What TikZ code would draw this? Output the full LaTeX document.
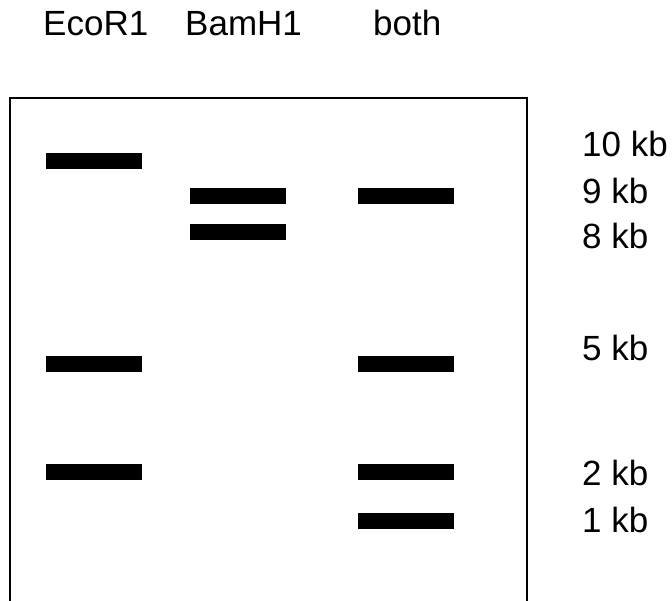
\documentclass[tikz,border=0pt]{standalone}
\usepackage{fontspec}
\setmainfont{Liberation Sans}
\begin{document}
\begin{tikzpicture}[x=1pt,y=-1pt,
  band/.style={rectangle,fill=black,inner sep=0pt,minimum width=96pt,minimum height=16pt},
  lbl/.style={anchor=base west,inner sep=0pt,font=\fontsize{35}{42}\selectfont}]
  \useasboundingbox (0,0) rectangle (672,600);
  \clip (0,0) rectangle (672,600);
  % gel outline (open at the bottom)
  \draw[line width=1.8pt] (10,620) -- (10,98) -- (527,98) -- (527,620);
  % lane headings
  \node[lbl] (hEco) at (43,35) {EcoR1};
  \node[lbl] (hBam) at (185,35) {BamH1};
  \node[lbl] (hBoth) at (373,35) {both};
  % EcoR1 lane
  \node[band] (e10) at (94,160.5) {};
  \node[band] (e5) at (94,364) {};
  \node[band] (e2) at (94,472) {};
  % BamH1 lane
  \node[band] (b9) at (238,196) {};
  \node[band] (b8) at (238,232) {};
  % double digest lane
  \node[band] (d9) at (406,196) {};
  \node[band] (d5) at (406,364) {};
  \node[band] (d2) at (406,472) {};
  \node[band] (d1) at (406,520.5) {};
  % size markers
  \node[lbl] (s10) at (582,156) {10 kb};
  \node[lbl] (s9) at (582,203) {9 kb};
  \node[lbl] (s8) at (582,248) {8 kb};
  \node[lbl] (s5) at (582,360) {5 kb};
  \node[lbl] (s2) at (582,485) {2 kb};
  \node[lbl] (s1) at (582,532) {1 kb};
\end{tikzpicture}
\end{document}
